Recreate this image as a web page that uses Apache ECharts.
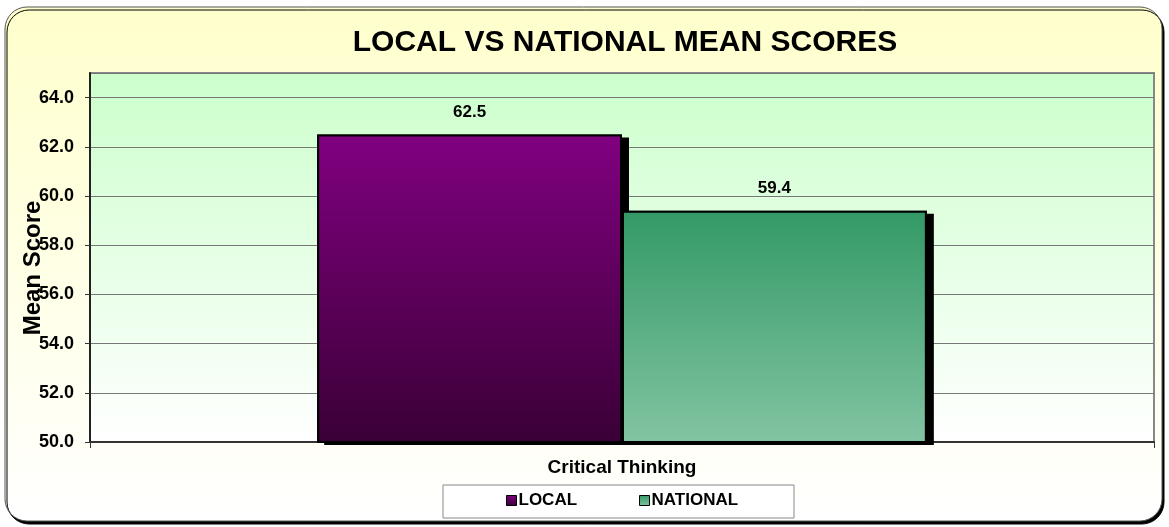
<!DOCTYPE html>
<html>
<head>
<meta charset="utf-8">
<script src="https://cdn.jsdelivr.net/npm/echarts@6/dist/echarts.min.js"></script>
<style>html,body{margin:0;padding:0;background:#fff}#c{width:1169px;height:527px}</style>
</head>
<body>
<div id="c"></div>
<script>
const categories = ['Critical Thinking'];
const localValues = [62.5];
const nationalValues = [59.4];
const seriesNames = ['LOCAL', 'NATIONAL'];
const yMin = 50, yMax = 65, yInterval = 2;

const chart = echarts.init(document.getElementById('c'));
const F = 'Arial, "Liberation Sans", sans-serif';
function vgrad(a, b) {
  return new echarts.graphic.LinearGradient(0, 0, 0, 1, [{offset: 0, color: a}, {offset: 1, color: b}]);
}
const labelCfg = {show: true, position: 'top', distance: 14, formatter: p => p.value.toFixed(1),
                  fontFamily: F, fontWeight: 'bold', fontSize: 17, color: '#000'};
const shadowStyle = {color: '#000', shadowColor: '#000', shadowOffsetX: 7, shadowOffsetY: 3, shadowBlur: 0};
chart.setOption({
  backgroundColor: '#ffffff',
  animation: false,
  title: {
    text: 'LOCAL VS NATIONAL MEAN SCORES',
    left: 625, top: 28, padding: 0, textAlign: 'center',
    textStyle: {fontFamily: F, fontWeight: 'bold', fontSize: 30, color: '#000'}
  },
  graphic: [
    {type: 'rect', z: -10, shape: {x: 5, y: 7, width: 1157, height: 514, r: 22},
     style: {fill: vgrad('#FFFFCC', '#FFFFFF'), stroke: '#555', lineWidth: 1,
              shadowColor: '#000', shadowOffsetX: 2, shadowOffsetY: 3, shadowBlur: 0}},
    {type: 'rect', z: 1, shape: {x: 443, y: 485, width: 351, height: 33},
     style: {fill: '#fff', stroke: '#888', lineWidth: 1}},
    {type: 'text', z: 5, x: 33, y: 268, rotation: Math.PI / 2,
     style: {text: 'Mean Score', fontFamily: F, fontWeight: 'bold', fontSize: 24, fill: '#000',
             align: 'center', verticalAlign: 'middle'}}
  ],
  legend: {
    data: seriesNames, left: 506, top: 492, padding: 0,
    itemWidth: 10, itemHeight: 10, itemGap: 62, icon: 'rect',
    textStyle: {fontFamily: F, fontWeight: 'bold', fontSize: 17, color: '#000', padding: [0, 0, 0, -3]},
    itemStyle: {borderColor: '#000', borderWidth: 1}
  },
  grid: {
    left: 90, right: 15, top: 73, bottom: 85, show: true,
    backgroundColor: vgrad('#CCFFCC', '#FFFFFF'), borderColor: '#888', borderWidth: 2
  },
  xAxis: [{
    type: 'category', data: categories,
    axisLine: {lineStyle: {color: '#333', width: 2}},
    axisTick: {show: true, length: 6, lineStyle: {color: '#333'}},
    axisLabel: {margin: 16, fontFamily: F, fontWeight: 'bold', fontSize: 19, color: '#000'}
  }, {
    type: 'category', data: categories, show: false
  }],
  yAxis: {
    type: 'value', min: yMin, max: yMax, interval: yInterval,
    axisLine: {show: true, lineStyle: {color: '#222', width: 2}},
    axisTick: {show: true, length: 5, lineStyle: {color: '#333'}},
    axisLabel: {margin: 16, showMaxLabel: false, formatter: v => v.toFixed(1),
                fontFamily: F, fontWeight: 'bold', fontSize: 18, color: '#000'},
    splitLine: {show: true, lineStyle: {color: '#777', width: 1}}
  },
  series: [
    {name: 'LOCAL shadow', type: 'bar', xAxisIndex: 1, data: localValues, z: 1, silent: true,
     barGap: '0%', barCategoryGap: '42.7%', itemStyle: shadowStyle},
    {name: 'NATIONAL shadow', type: 'bar', xAxisIndex: 1, data: nationalValues, z: 1, silent: true,
     itemStyle: shadowStyle},
    {name: seriesNames[0], type: 'bar', data: localValues, z: 2, barGap: '0%', barCategoryGap: '42.7%',
     itemStyle: {color: vgrad('#800080', '#3A0036'), borderColor: '#000', borderWidth: 2},
     label: labelCfg},
    {name: seriesNames[1], type: 'bar', data: nationalValues, z: 3,
     itemStyle: {color: vgrad('#339966', '#82C4A2'), borderColor: '#000', borderWidth: 2},
     label: labelCfg}
  ]
});
</script>
</body>
</html>
